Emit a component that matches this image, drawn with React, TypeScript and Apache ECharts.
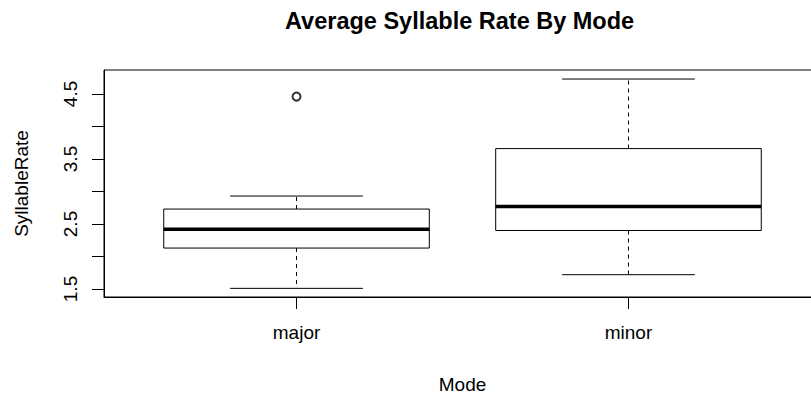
import React, { useEffect, useRef } from "react";
import * as echarts from "echarts";

const categories = ["major", "minor"];
const whiskerLow = [1.51, 1.72];
const q1 = [2.13, 2.4];
const medians = [2.42, 2.77];
const q3 = [2.73, 3.66];
const whiskerHigh = [2.93, 4.73];
const outliers = [[1, 4.46]]; // [group position, value]
const yTicks = [1.5, 2, 2.5, 3, 3.5, 4, 4.5];
const yLabels = [1.5, 2.5, 3.5, 4.5];
const xPositions = [1, 2];

export default function App() {
  const ref = useRef<HTMLDivElement>(null);
  useEffect(() => {
    document.body.style.margin = "0";
    const chart = echarts.init(ref.current!, null, { renderer: "svg" });
    const font = "'Liberation Sans', Arial, sans-serif";
    const boxData = categories.map((c, i) => [
      xPositions[i],
      whiskerLow[i],
      q1[i],
      medians[i],
      q3[i],
      whiskerHigh[i],
    ]);
    chart.setOption({
      animation: false,
      title: {
        text: "Average Syllable Rate By Mode",
        left: 285,
        top: 9,
        padding: 0,
        textStyle: { fontFamily: font, fontSize: 23.5, fontWeight: "bold", color: "#000" },
      },
      grid: {
        left: 104,
        top: 70,
        width: 717,
        height: 227,
        outerBoundsMode: "none",
        containLabel: false,
        show: true,
        borderColor: "#000",
        borderWidth: 1,
        backgroundColor: "transparent",
      },
      xAxis: {
        type: "value",
        min: 0.42,
        max: 2.58,
        name: "Mode",
        nameLocation: "middle",
        nameGap: 78,
        nameTextStyle: { fontFamily: font, fontSize: 19, color: "#000" },
        axisLine: { show: true, lineStyle: { color: "#000", width: 1 } },
        axisTick: { show: true, length: 12, customValues: xPositions, lineStyle: { color: "#000" } },
        axisLabel: {
          customValues: xPositions,
          formatter: (v: number) => categories[Math.round(v) - 1] ?? "",
          margin: 26,
          fontFamily: font,
          fontSize: 19,
          color: "#000",
        },
        splitLine: { show: false },
      },
      yAxis: {
        type: "value",
        min: 1.377,
        max: 4.869,
        name: "SyllableRate",
        nameLocation: "middle",
        nameGap: 73,
        nameRotate: 90,
        nameTextStyle: { fontFamily: font, fontSize: 19, color: "#000" },
        axisLine: { show: true, lineStyle: { color: "#000", width: 1 } },
        axisTick: { show: true, length: 12, customValues: yTicks, lineStyle: { color: "#000" } },
        axisLabel: {
          customValues: yLabels,
          rotate: 90,
          margin: 24,
          fontFamily: font,
          fontSize: 19,
          color: "#000",
          formatter: (v: number) => v.toFixed(1),
        },
        splitLine: { show: false },
      },
      series: [
        {
          type: "custom",
          data: boxData,
          encode: { x: 0, y: [1, 2, 3, 4, 5] },
          renderItem: (params: any, api: any) => {
            const x = api.value(0);
            const pLo = api.coord([x, api.value(1)]);
            const pQ1 = api.coord([x, api.value(2)]);
            const pMed = api.coord([x, api.value(3)]);
            const pQ3 = api.coord([x, api.value(4)]);
            const pHi = api.coord([x, api.value(5)]);
            const bw = api.size([0.8, 0])[0];
            const cx = pLo[0];
            const half = bw / 2;
            const capHalf = bw / 4;
            const stroke = { stroke: "#000", lineWidth: 1 };
            const dashed = { stroke: "#000", lineWidth: 1, lineDash: [4, 4] };
            return {
              type: "group",
              children: [
                { type: "line", shape: { x1: cx, y1: pQ3[1], x2: cx, y2: pHi[1] }, style: dashed },
                { type: "line", shape: { x1: cx, y1: pQ1[1], x2: cx, y2: pLo[1] }, style: dashed },
                { type: "line", shape: { x1: cx - capHalf, y1: pHi[1], x2: cx + capHalf, y2: pHi[1] }, style: stroke },
                { type: "line", shape: { x1: cx - capHalf, y1: pLo[1], x2: cx + capHalf, y2: pLo[1] }, style: stroke },
                {
                  type: "rect",
                  shape: { x: cx - half, y: pQ3[1], width: bw, height: pQ1[1] - pQ3[1] },
                  style: { fill: "#fff", stroke: "#000", lineWidth: 1 },
                },
                {
                  type: "line",
                  shape: { x1: cx - half, y1: pMed[1], x2: cx + half, y2: pMed[1] },
                  style: { stroke: "#000", lineWidth: 3.5 },
                },
              ],
            };
          },
        },
        {
          type: "scatter",
          data: outliers,
          symbol: "emptyCircle",
          symbolSize: 8,
          itemStyle: { color: "#000", borderColor: "#000", borderWidth: 0.8 },
        },
      ],
    });
    return () => chart.dispose();
  }, []);
  return <div ref={ref} style={{ width: 811, height: 394 }} />;
}
